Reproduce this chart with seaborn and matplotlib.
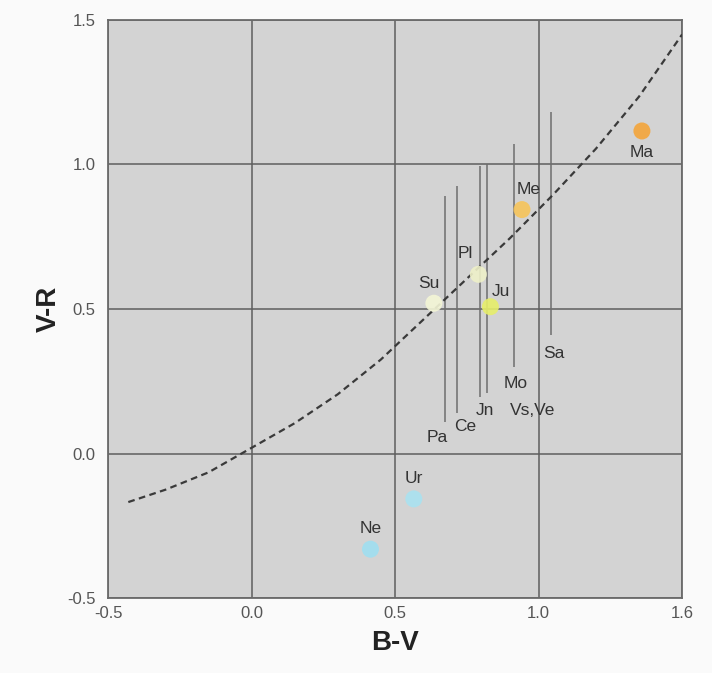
import matplotlib
matplotlib.use("Agg")
import matplotlib.pyplot as plt
import seaborn as sns
import pandas as pd

# Bodies plotted as points
bodies = ["Ma", "Me", "Pl", "Su", "Ju", "Ur", "Ne"]
body_bv = [1.36, 0.942, 0.79, 0.635, 0.832, 0.565, 0.414]
body_vr = [1.116, 0.844, 0.62, 0.52, 0.508, -0.157, -0.331]
body_colors = ["#f4a53a", "#f6c45a", "#eef0c8", "#f4f6d6", "#e6ee6a", "#a9e2f0", "#9fdff0"]
body_label_x = [1.36, 0.964, 0.745, 0.617, 0.867, 0.565, 0.414]
body_label_y = [1.04, 0.913, 0.693, 0.589, 0.56, -0.088, -0.261]

# Bodies plotted as vertical ranges
ranges = ["Pa", "Ce", "Jn", "Vs,Ve", "Mo", "Sa"]
range_bv = [0.672, 0.714, 0.795, 0.82, 0.913, 1.043]
range_top = [0.89, 0.925, 0.994, 1.0, 1.07, 1.18]
range_bottom = [0.109, 0.139, 0.195, 0.21, 0.30, 0.41]
range_label_x = [0.646, 0.745, 0.814, 0.978, 0.919, 1.052]
range_label_y = [0.056, 0.094, 0.149, 0.149, 0.243, 0.346]

# Dashed reference curve
curve_bv = [-0.43, -0.3, -0.15, 0.0, 0.15, 0.3, 0.45, 0.6, 0.75, 0.9, 1.05, 1.2, 1.35, 1.5]
curve_vr = [-0.168, -0.125, -0.065, 0.02, 0.105, 0.205, 0.325, 0.465, 0.605, 0.745, 0.895, 1.055, 1.235, 1.45]

ticks = [-0.5, 0.0, 0.5, 1.0, 1.5]
tick_labels_x = ["-0.5", "0.0", "0.5", "1.0", "1.6"]
tick_labels_y = ["-0.5", "0.0", "0.5", "1.0", "1.5"]

sns.set_style("white")
plt.rcParams["font.family"] = ["Liberation Sans", "DejaVu Sans"]

fig = plt.figure(figsize=(7.12, 6.73), dpi=100)
ax = fig.add_axes([0.152, 0.1114, 0.806, 0.8589])
ax.set_facecolor("#d3d3d3")
fig.patch.set_facecolor("#fafafa")

ax.set_xlim(-0.5, 1.5)
ax.set_ylim(-0.5, 1.5)
ax.set_xticks(ticks)
ax.set_yticks(ticks)
ax.set_xticklabels(tick_labels_x)
ax.set_yticklabels(tick_labels_y)
ax.grid(True, color="#5e5e5e", linewidth=1.1)
ax.set_axisbelow(True)
ax.tick_params(length=0, labelsize=12, labelcolor="#555555")
ax.tick_params(axis="y", pad=9)
ax.tick_params(axis="x", pad=6)
for s in ax.spines.values():
    s.set_color("#6a6a6a")
    s.set_linewidth(1.3)

# vertical ranges
ax.vlines(range_bv, range_bottom, range_top, colors="#6e6e6e", linewidth=1.1, zorder=2)

# curve
curve_df = pd.DataFrame({"bv": curve_bv, "vr": curve_vr})
sns.lineplot(data=curve_df, x="bv", y="vr", sort=False, ax=ax, color="#3a3a3a",
             linestyle=(0, (3, 2)), linewidth=1.6, zorder=3)

# points
pts = pd.DataFrame({"bv": body_bv, "vr": body_vr, "name": bodies})
sns.scatterplot(data=pts, x="bv", y="vr", hue="name", palette=dict(zip(bodies, body_colors)),
                s=150, edgecolor="none", legend=False, ax=ax, zorder=4, alpha=0.9)

for name, x, y in zip(bodies, body_label_x, body_label_y):
    ax.text(x, y, name, ha="center", va="center", fontsize=12.5, color="#333333", zorder=5)
for name, x, y in zip(ranges, range_label_x, range_label_y):
    ax.text(x, y, name, ha="center", va="center", fontsize=12.5, color="#333333", zorder=5)

ax.set_xlabel("B-V", fontsize=20, fontweight="bold", color="#222222", labelpad=6)
ax.set_ylabel("V-R", fontsize=20, fontweight="bold", color="#222222", labelpad=4)

fig.savefig("out.png", dpi=100, facecolor=fig.get_facecolor())
